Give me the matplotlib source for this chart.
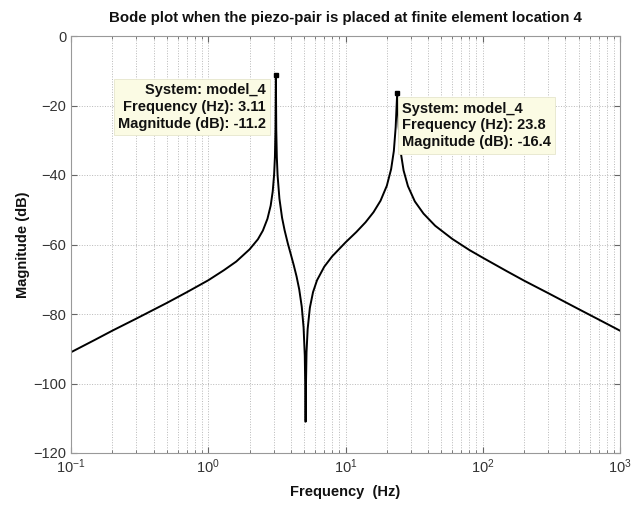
import matplotlib
matplotlib.use("Agg")
import matplotlib.pyplot as plt
from matplotlib.ticker import LogLocator, FixedLocator

plt.rcParams['font.family'] = ['Liberation Sans', 'DejaVu Sans']
plt.rcParams['mathtext.default'] = 'regular'

# Data (frequency in Hz, magnitude in dB)
freq_hz = [0.1, 0.15, 0.2, 0.3, 0.5, 0.7, 1.0, 1.3, 1.6, 2.0, 2.3, 2.5, 2.7,
           2.85, 2.95, 3.02, 3.06, 3.09, 3.11, 3.13, 3.16, 3.2, 3.3, 3.45, 3.6,
           3.8, 4.0, 4.2, 4.4, 4.6, 4.8, 4.95, 5.05, 5.1, 5.12, 5.14, 5.2, 5.3,
           5.5, 5.8, 6.2, 7.0, 8.0, 10.0, 12.0, 14.0, 16.0, 18.0, 20.0, 21.5,
           22.5, 23.2, 23.8, 24.4, 25.2, 26.5, 28.5, 32.0, 37.0, 45.0, 60.0,
           80.0, 100.0, 150.0, 200.0, 300.0, 500.0, 700.0, 1000.0]
mag_db = [-91.0, -87.4, -84.8, -81.3, -76.8, -73.7, -70.3, -67.4, -64.9, -61.4,
          -58.5, -56.0, -52.6, -48.8, -44.7, -39.8, -34.8, -26.8, -11.2, -26.9,
          -34.9, -40.1, -46.8, -52.3, -55.9, -59.7, -62.9, -66.0, -69.2, -72.9,
          -77.9, -83.9, -91.9, -103.0, -111.0, -102.8, -91.0, -84.3, -78.2,
          -73.7, -70.3, -66.4, -63.4, -59.4, -56.4, -53.6, -50.7, -47.4, -43.1,
          -38.3, -33.1, -26.3, -16.4, -26.0, -33.2, -38.7, -43.2, -47.6, -51.1,
          -54.6, -58.4, -61.6, -63.8, -67.7, -70.4, -74.0, -78.6, -81.6, -84.8]

peak_freq = [3.11, 23.8]
peak_db = [-11.2, -16.4]
system_name = "model_4"

title = "Bode plot when the piezo-pair is placed at finite element location 4"
xlabel = "Frequency  (Hz)"
ylabel = "Magnitude (dB)"
yticks = [0, -20, -40, -60, -80, -100, -120]

fig = plt.figure(figsize=(6.38, 5.08), dpi=100)
ax = fig.add_axes([71/638, 1-453/508, 549/638, 417/508])

ax.plot(freq_hz, mag_db, color='black', lw=1.4, solid_joinstyle='round')
ax.plot(peak_freq, peak_db, 's', color='black', ms=3.5)

ax.set_xscale('log')
ax.set_xlim(0.1, 1000)
ax.set_ylim(-120, 0)
ax.yaxis.set_major_locator(FixedLocator(yticks))
ax.xaxis.set_major_locator(LogLocator(base=10, numticks=10))
ax.xaxis.set_minor_locator(LogLocator(base=10, subs=range(2, 10), numticks=100))

ax.grid(True, which='major', axis='both', ls=':', color='#b8b8b8', lw=0.7)
ax.grid(True, which='minor', axis='x', ls=':', color='#b8b8b8', lw=0.7)
ax.tick_params(which='both', direction='in', colors='#666666', labelcolor='#333333',
               labelsize=10.5, top=True, right=True)
ax.tick_params(which='major', length=4)
ax.tick_params(which='minor', length=2)
for s in ax.spines.values():
    s.set_color('#999999')
    s.set_linewidth(0.8)

ax.set_title(title, fontsize=10.8, fontweight='bold', pad=10, color='#111111')
ax.set_xlabel(xlabel, fontsize=10.5, fontweight='bold', color='#111111', labelpad=6)
ax.set_ylabel(ylabel, fontsize=10.5, fontweight='bold', color='#111111', labelpad=2)

box = dict(boxstyle='square,pad=0.3', facecolor='#fbfbe4', edgecolor='#e6e6cc', lw=0.6)
ax.text((266-71)/549, (453-107.0)/417,
        f"System: {system_name}\nFrequency (Hz): {peak_freq[0]:.3g}\nMagnitude (dB): {peak_db[0]:.3g}",
        transform=ax.transAxes, ha='right', va='center', multialignment='right',
        fontsize=10.5, fontweight='bold', color='#111111', linespacing=1.25, bbox=box)
ax.text((402-71)/549, (453-125.5)/417,
        f"System: {system_name}\nFrequency (Hz): {peak_freq[1]:.3g}\nMagnitude (dB): {peak_db[1]:.3g}",
        transform=ax.transAxes, ha='left', va='center', multialignment='left',
        fontsize=10.5, fontweight='bold', color='#111111', linespacing=1.25, bbox=box)

fig.savefig("out.png", dpi=100)
